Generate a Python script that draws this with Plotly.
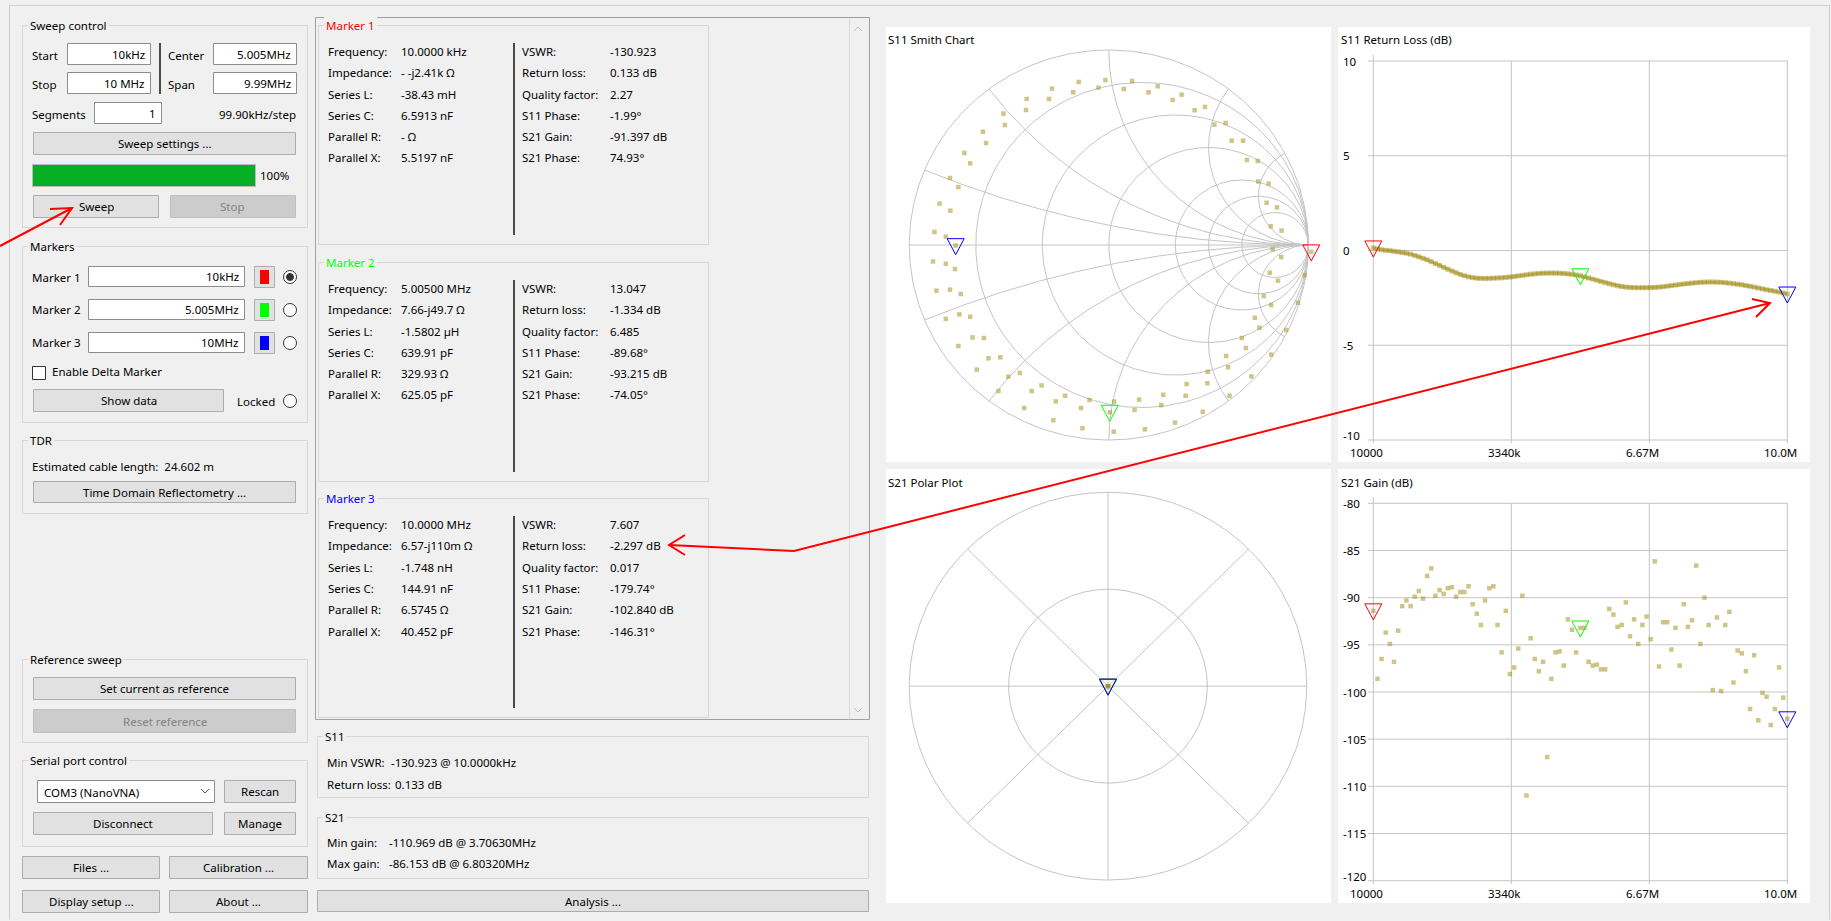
import numpy as np
import plotly.graph_objects as go

# ---------------------------------------------------------------- sweep data
START_HZ = 10_000
STEP_HZ = 99_900
N_POINTS = 101
freqs = [START_HZ + i * STEP_HZ for i in range(N_POINTS)]

s11_return_loss_db = [
    0.133, 0.08, 0.04, 0.01, -0.01, -0.04, -0.07, -0.10, -0.14, -0.19,
    -0.26, -0.33, -0.41, -0.49, -0.59, -0.69, -0.79, -0.89, -0.99, -1.09,
    -1.18, -1.26, -1.33, -1.39, -1.43, -1.46, -1.47, -1.48, -1.47, -1.46,
    -1.45, -1.44, -1.42, -1.40, -1.37, -1.34, -1.31, -1.28, -1.25, -1.23,
    -1.21, -1.20, -1.19, -1.19, -1.19, -1.20, -1.21, -1.23, -1.26, -1.29,
    -1.334, -1.39, -1.45, -1.51, -1.57, -1.64, -1.70, -1.76, -1.81, -1.86,
    -1.90, -1.93, -1.95, -1.96, -1.96, -1.96, -1.96, -1.96, -1.95, -1.93,
    -1.91, -1.88, -1.85, -1.82, -1.79, -1.76, -1.74, -1.72, -1.70, -1.68,
    -1.67, -1.66, -1.66, -1.67, -1.68, -1.70, -1.72, -1.75, -1.78, -1.81,
    -1.85, -1.89, -1.93, -1.98, -2.03, -2.07, -2.11, -2.15, -2.19, -2.24,
    -2.297,
]

s21_gain_db = [
    -91.397, -98.6, -96.5, -93.7, -94.9, -96.8, -93.5, -90.9, -90.3, -90.9,
    -89.9, -89.3, -90.1, -87.7, -86.9, -89.8, -89.2, -89.6, -89.0, -88.9,
    -89.9, -89.4, -89.4, -88.8, -90.7, -91.7, -92.9, -90.3, -89.0, -88.8,
    -92.9, -95.8, -91.4, -98.1, -97.4, -95.4, -89.8, -110.969, -94.3, -96.5,
    -97.8, -96.8, -106.9, -98.6, -95.8, -95.7, -97.2, -92.3, -93.4, -95.8,
    -93.215, -93.2, -96.8, -97.2, -97.1, -97.6, -97.6, -91.2, -91.8, -93.1,
    -92.9, -90.5, -94.1, -92.3, -94.9, -92.9, -92.0, -94.4, -86.153, -97.3,
    -92.6, -92.6, -95.5, -93.2, -97.2, -90.7, -93.1, -92.4, -86.6, -94.9,
    -90.0, -92.9, -99.8, -92.1, -99.9, -92.9, -91.5, -99.0, -95.6, -95.9,
    -97.8, -101.8, -96.1, -103.0, -100.1, -100.5, -103.5, -101.8, -97.4, -100.6,
    -102.840,
]

# S11 reflection coefficient points (real, imaginary)
smith_re = [
    -0.151, -0.017, 0.117, -0.285, -0.052, 0.075, 0.245, 0.199, -0.179, -0.412,
    -0.300, 0.320, 0.365, -0.415, 0.430, 0.482, -0.528, -0.521, 0.529, 0.586,
    -0.631, -0.615, 0.616, 0.673, -0.724, -0.695, 0.692, 0.747, -0.796, -0.754,
    0.749, 0.801, -0.848, -0.794, 0.791, 0.843, -0.874, -0.817, 0.812, 0.866,
    0.821, 0.864, 1.015, -0.881, -0.817, -0.771, 0.807, 0.848, 0.982, -0.864,
    -0.796, -0.742, 0.777, 0.814, 0.948, -0.817, -0.749, -0.695, 0.732, 0.755,
    0.889, -0.754, -0.683, -0.626, 0.667, 0.687, -0.603, -0.544, 0.588, 0.598,
    0.814, -0.662, -0.504, -0.446, 0.496, 0.494, 0.715, -0.553, -0.387, -0.337,
    0.390, 0.385, 0.273, 0.605, -0.424, -0.266, -0.219, -0.139, -0.097, 0.027,
    0.005, 0.152, 0.129, 0.263, 0.471, -0.278, -0.132, 0.025, 0.181, 0.332,
    -0.768,
]
smith_im = [
    0.836, 0.846, 0.841, 0.802, 0.807, 0.800, 0.814, 0.783, 0.783, 0.749,
    0.749, 0.744, 0.771, 0.692, 0.691, 0.708, 0.674, 0.615, 0.617, 0.626,
    0.581, 0.523, 0.535, 0.535, 0.472, 0.419, 0.436, 0.431, 0.344, 0.297,
    0.326, 0.315, 0.212, 0.176, 0.217, 0.193, 0.067, 0.043, 0.096, 0.074,
    -0.021, -0.062, -0.035, -0.084, -0.096, -0.123, -0.142, -0.183, -0.154, -0.234,
    -0.229, -0.251, -0.262, -0.308, -0.296, -0.379, -0.356, -0.368, -0.373, -0.424,
    -0.436, -0.518, -0.474, -0.477, -0.477, -0.528, -0.581, -0.576, -0.569, -0.627,
    -0.562, -0.639, -0.675, -0.656, -0.650, -0.709, -0.674, -0.749, -0.749, -0.720,
    -0.713, -0.773, -0.768, -0.773, -0.836, -0.802, -0.773, -0.836, -0.795, -0.803,
    -0.858, -0.793, -0.846, -0.821, -0.855, -0.899, -0.940, -0.957, -0.945, -0.911,
    -0.003,
]

# ---------------------------------------------------------------- markers
marker_titles = ["Marker 1", "Marker 2", "Marker 3"]
marker_colors = ["#ff0000", "#00ff00", "#0000ff"]
marker_freq_hz = [10_000, 5_005_000, 10_000_000]
marker_freq_text = ["10.0000 kHz", "5.00500 MHz", "10.0000 MHz"]
marker_input_text = ["10kHz", "5.005MHz", "10MHz"]
marker_impedance = ["- -j2.41k \u03a9", "7.66-j49.7 \u03a9", "6.57-j110m \u03a9"]
marker_series_l = ["-38.43 mH", "-1.5802 \u00b5H", "-1.748 nH"]
marker_series_c = ["6.5913 nF", "639.91 pF", "144.91 nF"]
marker_parallel_r = ["- \u03a9", "329.93 \u03a9", "6.5745 \u03a9"]
marker_parallel_x = ["5.5197 nF", "625.05 pF", "40.452 pF"]
marker_vswr = ["-130.923", "13.047", "7.607"]
marker_return_loss_db = [0.133, -1.334, -2.297]
marker_quality = ["2.27", "6.485", "0.017"]
marker_s11_phase_deg = [-1.99, -89.68, -179.74]
marker_s21_gain_db = [-91.397, -93.215, -102.840]
marker_s21_phase_deg = [74.93, -74.05, -146.31]

freq_ticks = [10_000, 3_340_000, 6_670_000, 10_000_000]
freq_tick_text = ["10000", "3340k", "6.67M", "10.0M"]
rl_ticks = [10, 5, 0, -5, -10]
gain_ticks = [-80, -85, -90, -95, -100, -105, -110, -115, -120]

# ---------------------------------------------------------------- page helpers
W, H = 1831, 921
FONT = "Noto Sans"
FS = 11.5
BG = "#f0f0f0"
GRID = "#c4c4c4"
TRACE = "rgba(160,140,20,0.5)"

shapes, annos = [], []


def fx(x):
    return x / W


def fy(y):
    return 1 - y / H


def line(x0, y0, x1, y1, color, width=1, layer="below"):
    o = 0.5 if width == 1 else 0
    shapes.append(dict(type="line", xref="paper", yref="paper",
                       x0=fx(x0 + o), y0=fy(y0 + o), x1=fx(x1 + o), y1=fy(y1 + o),
                       line=dict(color=color, width=width), layer=layer))


def box(x0, y0, x1, y1, fill="rgba(0,0,0,0)", edge=None, width=1, layer="below"):
    o = 0.5 if edge else 0
    shapes.append(dict(type="rect", xref="paper", yref="paper",
                       x0=fx(x0 + o), y0=fy(y1 - o), x1=fx(x1 - o), y1=fy(y0 + o),
                       fillcolor=fill,
                       line=dict(color=edge or "rgba(0,0,0,0)", width=width if edge else 0),
                       layer=layer))


def ring(cx, cy, r, fill, edge, width=1):
    shapes.append(dict(type="circle", xref="paper", yref="paper",
                       x0=fx(cx - r), x1=fx(cx + r), y0=fy(cy + r), y1=fy(cy - r),
                       fillcolor=fill, line=dict(color=edge, width=width), layer="below"))


def poly(points, color, width=1, layer="below"):
    d = "M" + "L".join(f"{fx(x)},{fy(y)}" for x, y in points)
    shapes.append(dict(type="path", xref="paper", yref="paper", path=d,
                       line=dict(color=color, width=width), layer=layer))


def label(x, y, s, color="#000000", anchor="left", size=FS, bg=None, pad=0):
    annos.append(dict(xref="paper", yref="paper", x=fx(x), y=fy(y), text=s,
                      showarrow=False, xanchor=anchor, yanchor="middle",
                      font=dict(family=FONT, size=size, color=color),
                      bgcolor=bg or "rgba(0,0,0,0)", borderpad=pad, borderwidth=0))


def button(x0, y0, x1, y1, s, enabled=True):
    box(x0, y0, x1, y1, fill="#e1e1e1" if enabled else "#cccccc",
        edge="#adadad" if enabled else "#bfbfbf")
    label((x0 + x1) / 2, (y0 + y1) / 2, s, color="#000000" if enabled else "#838383",
          anchor="center")


def edit(x0, y0, x1, y1, s):
    box(x0, y0, x1, y1, fill="#ffffff", edge="#8c8c8c")
    label(x1 - 6, (y0 + y1) / 2, s, anchor="right")


def group(x0, y0, x1, y1, title, color="#000000"):
    box(x0, y0, x1, y1, edge="#d7d7d7")
    label(x0 + 6, y0, title, color=color, bg=BG, pad=2)


def radio(cx, cy, checked=False):
    ring(cx, cy, 6.5, "#ffffff", "#333333")
    if checked:
        ring(cx, cy, 3.5, "#333333", "#333333")


# ---------------------------------------------------------------- window frame
line(9, 5, 1830, 5, "#cfcfcf")
line(9, 5, 9, 919, "#cfcfcf")
line(1829, 5, 1829, 919, "#cfcfcf")

# sweep control
group(22, 25, 308, 228, "Sweep control")
label(32, 55, "Start")
edit(67, 43, 151, 65, "10kHz")
label(32, 84, "Stop")
edit(67, 72, 151, 94, "10 MHz")
line(160, 43, 160, 94, "#4a4a4a", width=2)
label(168, 55, "Center")
edit(213, 43, 297, 65, "5.005MHz")
label(168, 84, "Span")
edit(213, 72, 297, 94, "9.99MHz")
label(32, 114, "Segments")
edit(94, 102, 162, 124, "1")
label(296, 114, "99.90kHz/step", anchor="right")
button(33, 132, 296, 155, "Sweep settings ...")
box(32, 164, 256, 187, fill="#06b025", edge="#bcbcbc")
label(260, 176, "100%")
button(33, 195, 159, 218, "Sweep")
button(170, 195, 296, 218, "Stop", enabled=False)

# markers
group(22, 246, 308, 423, "Markers")
for k, yrow in enumerate([277, 310, 343]):
    label(32, yrow, marker_titles[k])
    edit(88, yrow - 11, 245, yrow + 10, marker_input_text[k])
    box(254, yrow - 11, 275, yrow + 11, fill="#e1e1e1", edge="#adadad")
    box(260, yrow - 7, 269, yrow + 7, fill=marker_colors[k])
    radio(290, yrow, checked=(k == 0))
box(32, 366, 46, 380, fill="#ffffff", edge="#333333")
label(52, 372, "Enable Delta Marker")
button(33, 389, 224, 412, "Show data")
label(237, 401, "Locked")
radio(290, 401)

# TDR
group(22, 440, 308, 514, "TDR")
label(32, 466, "Estimated cable length:  24.602 m")
button(33, 481, 296, 503, "Time Domain Reflectometry ...")

# reference sweep
group(22, 659, 308, 743, "Reference sweep")
button(33, 677, 296, 700, "Set current as reference")
button(33, 709, 296, 733, "Reset reference", enabled=False)

# serial port
group(22, 760, 308, 847, "Serial port control")
box(37, 780, 215, 803, fill="#ffffff", edge="#8c8c8c")
label(44, 792, "COM3 (NanoVNA)")
poly([(201, 789), (205, 793), (209, 789)], "#555555")
button(224, 780, 296, 803, "Rescan")
button(33, 812, 213, 835, "Disconnect")
button(224, 812, 296, 835, "Manage")
button(22, 856, 160, 879, "Files ...")
button(169, 856, 308, 879, "Calibration ...")
button(22, 890, 160, 913, "Display setup ...")
button(169, 890, 308, 913, "About ...")

# ---------------------------------------------------------------- marker readouts
box(315, 17, 870, 720, edge="#a0a0a0")
line(849, 18, 849, 719, "#dadada")
poly([(854, 31), (858, 27), (862, 31)], "#bdbdbd")
poly([(854, 708), (858, 712), (862, 708)], "#bdbdbd")

left_names = ["Frequency:", "Impedance:", "Series L:", "Series C:", "Parallel R:", "Parallel X:"]
right_names = ["VSWR:", "Return loss:", "Quality factor:", "S11 Phase:", "S21 Gain:", "S21 Phase:"]
for k, top in enumerate([25, 262, 498]):
    group(318, top, 709, min(top + 220, 718), marker_titles[k], color=marker_colors[k])
    left_vals = [marker_freq_text[k], marker_impedance[k], marker_series_l[k],
                 marker_series_c[k], marker_parallel_r[k], marker_parallel_x[k]]
    right_vals = [marker_vswr[k], f"{marker_return_loss_db[k]:.3f} dB", marker_quality[k],
                  f"{marker_s11_phase_deg[k]:.2f}\u00b0", f"{marker_s21_gain_db[k]:.3f} dB",
                  f"{marker_s21_phase_deg[k]:.2f}\u00b0"]
    for r in range(6):
        yrow = top + 26.5 + r * 21.3
        label(328, yrow, left_names[r])
        label(401, yrow, left_vals[r])
        label(522, yrow, right_names[r])
        label(610, yrow, right_vals[r])
    line(514, top + 18, 514, top + 210, "#4a4a4a", width=2)

# S11 / S21 summaries
i_min = int(np.argmin(s21_gain_db))
i_max = int(np.argmax(s21_gain_db))
group(317, 736, 869, 798, "S11")
label(327, 762, "Min VSWR:")
label(391, 762, f"{marker_vswr[0]} @ {marker_freq_hz[0] / 1e3:.4f}kHz")
label(327, 784, "Return loss:")
label(395, 784, f"{marker_return_loss_db[0]:.3f} dB")
group(317, 817, 869, 879, "S21")
label(327, 842, "Min gain:")
label(389, 842, f"{s21_gain_db[i_min]:.3f} dB @ {freqs[i_min] / 1e6:.5f}MHz")
label(327, 863, "Max gain:")
label(389, 863, f"{s21_gain_db[i_max]:.3f} dB @ {freqs[i_max] / 1e6:.5f}MHz")
button(317, 890, 869, 912, "Analysis ...")

# ---------------------------------------------------------------- chart panels
PANELS = {
    "smith": (886, 27, 1331, 462),
    "rl": (1338, 27, 1810, 462),
    "polar": (886, 469, 1331, 903),
    "gain": (1338, 469, 1810, 903),
}
for x0, y0, x1, y1 in PANELS.values():
    box(x0, y0, x1, y1, fill="#ffffff")

label(888, 39, "S11 Smith Chart")
label(1341, 39, "S11 Return Loss (dB)")
label(888, 482, "S21 Polar Plot")
label(1341, 482, "S21 Gain (dB)")


def span(p0, p1, v0, v1, d0, d1):
    """Values seen at pixels d0, d1 when pixel p0 shows v0 and p1 shows v1."""
    s = (v1 - v0) / (p1 - p0)
    return [v0 + (d0 - p0) * s, v0 + (d1 - p0) * s]


def axes_for(panel, xcal, ycal):
    x0, y0, x1, y1 = PANELS[panel]
    xa = dict(domain=[fx(x0), fx(x1)], range=span(*xcal, x0, x1), visible=False, fixedrange=True)
    ya = dict(domain=[fy(y1), fy(y0)], range=span(*ycal, y1, y0), visible=False, fixedrange=True)
    return xa, ya


# pixel calibration: (pixel_a, pixel_b, value_a, value_b)
ax_smith = axes_for("smith", (909.3, 1308.3, -1, 1), (440, 50, -1, 1))
ax_rl = axes_for("rl", (1373.3, 1787.3, freqs[0], freqs[-1]), (440, 61, -10, 10))
ax_polar = axes_for("polar", (909.3, 1306.7, -1, 1), (880, 492.3, -1, 1))
ax_gain = axes_for("gain", (1373.3, 1787.3, freqs[0], freqs[-1]), (880.7, 503.3, -120, -80))

fig = go.Figure()

# ---- Smith chart grid
def smith_grid():
    xs, ys = [], []
    t = np.linspace(0, 2 * np.pi, 361)
    for r in [0, 0.2, 0.5, 1, 2, 3, 5]:
        c, rad = r / (r + 1), 1 / (r + 1)
        xs += list(c + rad * np.cos(t)) + [None]
        ys += list(rad * np.sin(t)) + [None]
    rr = np.concatenate([np.linspace(0, 1, 80), np.logspace(0, 3.5, 200)])
    for x in [0.2, 0.5, 1, 2, 4]:
        for sgn in (1, -1):
            g = (rr + 1j * sgn * x - 1) / (rr + 1j * sgn * x + 1)
            xs += list(g.real) + [None]
            ys += list(g.imag) + [None]
    xs += [-1, 1, None]
    ys += [0, 0, None]
    return xs, ys


gx, gy = smith_grid()
fig.add_trace(go.Scatter(x=gx, y=gy, mode="lines", line=dict(color=GRID, width=1),
                         hoverinfo="skip", xaxis="x", yaxis="y"))
fig.add_trace(go.Scatter(x=smith_re, y=smith_im, mode="markers",
                         marker=dict(symbol="square", size=4.5, color=TRACE, line=dict(width=0)),
                         xaxis="x", yaxis="y", cliponaxis=False))

# ---- return loss
for k, f in enumerate(freq_ticks):
    shapes.append(dict(type="line", xref="x2", yref="paper", x0=f, x1=f,
                       y0=fy(443), y1=fy(55 if k == 0 else 61),
                       line=dict(color=GRID, width=1), layer="below"))
    annos.append(dict(xref="x2", yref="paper", x=f, y=fy(452), text=freq_tick_text[k],
                      showarrow=False, xanchor="center", yanchor="middle", xshift=-7,
                      font=dict(family=FONT, size=FS, color="#000")))
for v in rl_ticks:
    shapes.append(dict(type="line", xref="paper", yref="y2", x0=fx(1368), x1=fx(1787.5),
                       y0=v, y1=v, line=dict(color=GRID, width=1), layer="below"))
    annos.append(dict(xref="paper", yref="y2", x=fx(1341), y=v, text=str(v),
                      showarrow=False, xanchor="left", yanchor="middle",
                      yshift=5 if v == rl_ticks[-1] else 0,
                      font=dict(family=FONT, size=FS, color="#000")))
fig.add_trace(go.Scatter(x=freqs, y=s11_return_loss_db, mode="lines+markers",
                         line=dict(color=TRACE, width=3),
                         marker=dict(symbol="square", size=5, color=TRACE, line=dict(width=0)),
                         xaxis="x2", yaxis="y2", cliponaxis=False))

# ---- S21 polar grid
def polar_grid():
    xs, ys = [], []
    t = np.linspace(0, 2 * np.pi, 361)
    for r in [1, 0.5]:
        xs += list(r * np.cos(t)) + [None]
        ys += list(r * np.sin(t)) + [None]
    for a in np.deg2rad([0, 45, 90, 135]):
        xs += [-np.cos(a), np.cos(a), None]
        ys += [-np.sin(a), np.sin(a), None]
    return xs, ys


px_, py_ = polar_grid()
fig.add_trace(go.Scatter(x=px_, y=py_, mode="lines", line=dict(color=GRID, width=1),
                         hoverinfo="skip", xaxis="x3", yaxis="y3"))
s21_mag = [10 ** (g / 20) for g in marker_s21_gain_db]
s21_x = [m * np.cos(np.deg2rad(p)) for m, p in zip(s21_mag, marker_s21_phase_deg)]
s21_y = [m * np.sin(np.deg2rad(p)) for m, p in zip(s21_mag, marker_s21_phase_deg)]
fig.add_trace(go.Scatter(x=s21_x, y=s21_y, mode="markers",
                         marker=dict(symbol="square", size=4.5, color=TRACE, line=dict(width=0)),
                         xaxis="x3", yaxis="y3"))

# ---- S21 gain
for k, f in enumerate(freq_ticks):
    shapes.append(dict(type="line", xref="x4", yref="paper", x0=f, x1=f,
                       y0=fy(884), y1=fy(497 if k == 0 else 503),
                       line=dict(color=GRID, width=1), layer="below"))
    annos.append(dict(xref="x4", yref="paper", x=f, y=fy(893), text=freq_tick_text[k],
                      showarrow=False, xanchor="center", yanchor="middle", xshift=-7,
                      font=dict(family=FONT, size=FS, color="#000")))
for v in gain_ticks:
    shapes.append(dict(type="line", xref="paper", yref="y4", x0=fx(1368), x1=fx(1787.5),
                       y0=v, y1=v, line=dict(color=GRID, width=1), layer="below"))
    annos.append(dict(xref="paper", yref="y4", x=fx(1341), y=v, text=str(v),
                      showarrow=False, xanchor="left", yanchor="middle",
                      yshift=4 if v == gain_ticks[-1] else 0,
                      font=dict(family=FONT, size=FS, color="#000")))
fig.add_trace(go.Scatter(x=freqs, y=s21_gain_db, mode="markers",
                         marker=dict(symbol="square", size=4.5, color=TRACE, line=dict(width=0)),
                         xaxis="x4", yaxis="y4", cliponaxis=False))

# ---- marker triangles (open, pointing down at the measured point)
TRI = "M-8.5,7L8.5,7L0,-9Z"


def tri(xref, yref, xv, yv, color):
    shapes.append(dict(type="path", xref=xref, yref=yref, xsizemode="pixel", ysizemode="pixel",
                       xanchor=xv, yanchor=yv, path=TRI,
                       line=dict(color=color, width=1), fillcolor="rgba(0,0,0,0)", layer="above"))


for k in range(3):
    mag = 10 ** (marker_return_loss_db[k] / 20)
    ph = np.deg2rad(marker_s11_phase_deg[k])
    tri("x", "y", mag * np.cos(ph), mag * np.sin(ph), marker_colors[k])
    tri("x2", "y2", marker_freq_hz[k], marker_return_loss_db[k], marker_colors[k])
    tri("x3", "y3", s21_x[k], s21_y[k], marker_colors[k])
    tri("x4", "y4", marker_freq_hz[k], marker_s21_gain_db[k], marker_colors[k])

# ---------------------------------------------------------------- red call-out arrows
RED = "#ff0000"
poly([(0, 246), (72, 208)], RED, width=2, layer="above")
poly([(50, 209), (72, 208), (60, 225)], RED, width=2, layer="above")
poly([(669, 545), (794, 551), (1770, 303)], RED, width=2, layer="above")
poly([(685, 535), (669, 545), (685, 555)], RED, width=2, layer="above")
poly([(1752, 299), (1770, 303), (1756, 317)], RED, width=2, layer="above")

fig.update_layout(
    width=W, height=H, margin=dict(l=0, r=0, t=0, b=0),
    paper_bgcolor=BG, plot_bgcolor="rgba(0,0,0,0)", showlegend=False,
    xaxis=ax_smith[0], yaxis=ax_smith[1],
    xaxis2=ax_rl[0], yaxis2=ax_rl[1],
    xaxis3=ax_polar[0], yaxis3=ax_polar[1],
    xaxis4=ax_gain[0], yaxis4=ax_gain[1],
    shapes=shapes, annotations=annos,
    font=dict(family=FONT, size=FS, color="#000"),
)
fig.write_html("out.html", config={"displayModeBar": False})
